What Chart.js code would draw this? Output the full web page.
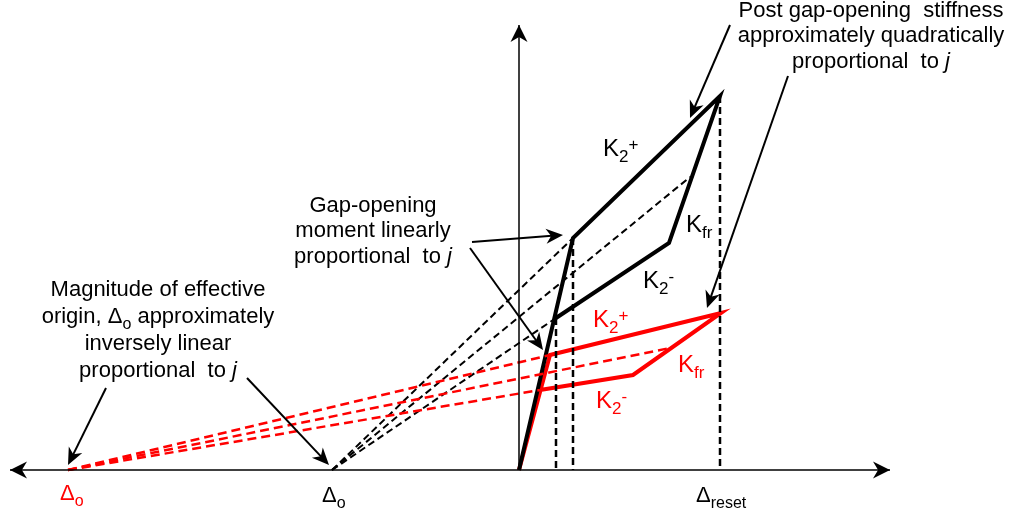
<!DOCTYPE html>
<html>
<head>
<meta charset="utf-8">
<script src="https://cdn.jsdelivr.net/npm/chart.js@4/dist/chart.umd.min.js"></script>
<style>
  html, body { margin: 0; padding: 0; background: #fff; }
  #wrap { width: 1016px; height: 517px; position: relative; }
</style>
</head>
<body>
<div id="wrap"><canvas id="myChart"></canvas></div>
<script>
// displacement / moment values (origin at the axes cross)
const blackLoop = [[0, 0], [54, 232], [201, 374], [150, 227], [37, 152]];
const redLoop = [[0, 0], [31, 115], [202, 157], [114, 95], [21, 80]];
const blackOrigin = -187;   // black effective origin
const redOrigin = -451;     // red effective origin
const blackDashEnds = [[54, 232], [171, 293], [37, 152]];
const redDashEnds = [[31, 115], [151, 122], [21, 80]];
const dropPoints = [[37, 152], [54, 232], [201, 374]];
const xAxisEnds = [-509, 371];
const yAxisTop = 445;

function pts(arr) {
    return arr.map(function (p) { return { x: p[0], y: p[1] }; });
}

var datasets = [];

// axes
datasets.push({ data: [{ x: xAxisEnds[0], y: 0 }, { x: xAxisEnds[1], y: 0 }], borderColor: '#000', borderWidth: 1.5 });
datasets.push({ data: [{ x: 0, y: 0 }, { x: 0, y: yAxisTop }], borderColor: '#000', borderWidth: 1.5 });

// dashed rays to the effective origins
redDashEnds.forEach(function (p) {
    datasets.push({ data: [{ x: redOrigin, y: 0 }, { x: p[0], y: p[1] }], borderColor: '#ff0000', borderWidth: 2.5, borderDash: [9, 5] });
});
blackDashEnds.forEach(function (p) {
    datasets.push({ data: [{ x: blackOrigin, y: 0 }, { x: p[0], y: p[1] }], borderColor: '#000', borderWidth: 2, borderDash: [7, 4] });
});

// vertical drops
dropPoints.forEach(function (p) {
    datasets.push({ data: [{ x: p[0], y: p[1] }, { x: p[0], y: 0 }], borderColor: '#000', borderWidth: 2.5, borderDash: [7, 4] });
});

// loops
datasets.push({ data: pts(blackLoop), borderColor: '#000', borderWidth: 4 });
datasets.push({ data: pts(redLoop), borderColor: '#ff0000', borderWidth: 4 });

datasets.forEach(function (d) {
    d.showLine = true;
    d.pointRadius = 0;
    d.fill = false;
    d.tension = 0;
    d.borderJoinStyle = 'miter';
});

// annotation arrows [fromX, fromY, toX, toY]
var arrows = [
    [211, 445, 171, 352],
    [269, 394, 188, 162],
    [-47, 228, 44, 235],
    [-49, 222, 24, 120],
    [-413, 82, -451, 5],
    [-272, 92, -190, 5]
];

var FONT = '"Liberation Sans", Arial, sans-serif';

// text pieces: [text, kind]  kind: '' | 'sub' | 'sup' | 'i'
var labels = [
    { x: 84, y: 314, size: 24, color: '#000', runs: [['K', ''], ['2', 'sub'], ['+', 'sup']] },
    { x: 167, y: 238, size: 24, color: '#000', runs: [['K', ''], ['fr', 'sub']] },
    { x: 124, y: 182, size: 24, color: '#000', runs: [['K', ''], ['2', 'sub'], ['-', 'sup']] },
    { x: 74, y: 143, size: 24, color: '#ff0000', runs: [['K', ''], ['2', 'sub'], ['+', 'sup']] },
    { x: 159, y: 98, size: 24, color: '#ff0000', runs: [['K', ''], ['fr', 'sub']] },
    { x: 77, y: 62, size: 24, color: '#ff0000', runs: [['K', ''], ['2', 'sub'], ['-', 'sup']] },
    { x: -459, y: -30, size: 22, color: '#ff0000', runs: [['\u0394', ''], ['o', 'sub']] },
    { x: -197, y: -32, size: 22, color: '#000', runs: [['\u0394', ''], ['o', 'sub']] },
    { x: 177, y: -32, size: 22, color: '#000', runs: [['\u0394', ''], ['reset', 'sub']] }
];

var notes = [
    { x: 352, y: [453, 428, 402], lines: [
        [['Post gap-opening  stiffness', '']],
        [['approximately quadratically', '']],
        [['proportional  to ', ''], ['j', 'i']]
    ] },
    { x: -146, y: [258, 233, 207], lines: [
        [['Gap-opening', '']],
        [['moment linearly', '']],
        [['proportional  to ', ''], ['j', 'i']]
    ] },
    { x: -361, y: [174, 147, 120, 93], lines: [
        [['Magnitude of effective', '']],
        [['origin, ', ''], ['\u0394', ''], ['o', 'sub'], [' approximately', '']],
        [['inversely linear', '']],
        [['proportional  to ', ''], ['j', 'i']]
    ] }
];

function runFont(kind, size) {
    if (kind === 'sub' || kind === 'sup') return Math.round(size * 0.72) + 'px ' + FONT;
    if (kind === 'i') return 'italic ' + size + 'px ' + FONT;
    return size + 'px ' + FONT;
}

function drawRuns(ctx, runs, px, py, size, color, center) {
    var total = 0;
    runs.forEach(function (r) {
        ctx.font = runFont(r[1], size);
        total += ctx.measureText(r[0]).width;
    });
    var cx = center ? px - total / 2 : px;
    ctx.fillStyle = color;
    ctx.textBaseline = 'alphabetic';
    ctx.textAlign = 'left';
    runs.forEach(function (r) {
        ctx.font = runFont(r[1], size);
        var dy = 0;
        if (r[1] === 'sub') dy = size * 0.25;
        if (r[1] === 'sup') dy = -size * 0.27;
        ctx.fillText(r[0], cx, py + dy);
        cx += ctx.measureText(r[0]).width;
    });
}

function arrowHead(ctx, x1, y1, x2, y2, len, half) {
    var a = Math.atan2(y2 - y1, x2 - x1);
    var c = Math.cos(a), s = Math.sin(a);
    var bx = x2 - len * c, by = y2 - len * s;
    var nx = x2 - len * 0.7 * c, ny = y2 - len * 0.7 * s;
    ctx.beginPath();
    ctx.moveTo(x2, y2);
    ctx.lineTo(bx - half * s, by + half * c);
    ctx.lineTo(nx, ny);
    ctx.lineTo(bx + half * s, by - half * c);
    ctx.closePath();
    ctx.fill();
}

var sketchPlugin = {
    id: 'sketch',
    afterDatasetsDraw: function (chart) {
        var ctx = chart.ctx;
        var xs = chart.scales.x, ys = chart.scales.y;
        var X = function (v) { return xs.getPixelForValue(v); };
        var Y = function (v) { return ys.getPixelForValue(v); };
        ctx.save();
        ctx.fillStyle = '#000';
        ctx.strokeStyle = '#000';

        // axis heads
        arrowHead(ctx, X(0), Y(0), X(xAxisEnds[1]), Y(0), 17, 8.5);
        arrowHead(ctx, X(0), Y(0), X(xAxisEnds[0]), Y(0), 17, 8.5);
        arrowHead(ctx, X(0), Y(0), X(0), Y(yAxisTop), 17, 8.5);

        // annotation arrows
        ctx.lineWidth = 2;
        arrows.forEach(function (a) {
            var x1 = X(a[0]), y1 = Y(a[1]), x2 = X(a[2]), y2 = Y(a[3]);
            var ang = Math.atan2(y2 - y1, x2 - x1);
            ctx.beginPath();
            ctx.moveTo(x1, y1);
            ctx.lineTo(x2 - 8 * Math.cos(ang), y2 - 8 * Math.sin(ang));
            ctx.stroke();
            arrowHead(ctx, x1, y1, x2, y2, 17, 7.5);
        });

        labels.forEach(function (l) {
            drawRuns(ctx, l.runs, X(l.x), Y(l.y), l.size, l.color, false);
        });
        notes.forEach(function (n) {
            n.lines.forEach(function (line, i) {
                drawRuns(ctx, line, X(n.x), Y(n.y[i]), 22, '#000', true);
            });
        });
        ctx.restore();
    }
};

window.onload = function () {
    var myChart = new Chart(document.getElementById('myChart'), {
        type: 'scatter',
        data: { datasets: datasets },
        options: {
            responsive: true,
            maintainAspectRatio: false,
            animation: false,
            layout: { padding: 0 },
            plugins: {
                legend: { display: false },
                tooltip: { enabled: false }
            },
            scales: {
                x: { type: 'linear', min: -519, max: 497, display: false },
                y: { type: 'linear', min: -47, max: 470, display: false }
            }
        },
        plugins: [sketchPlugin]
    });
};
</script>
</body>
</html>
